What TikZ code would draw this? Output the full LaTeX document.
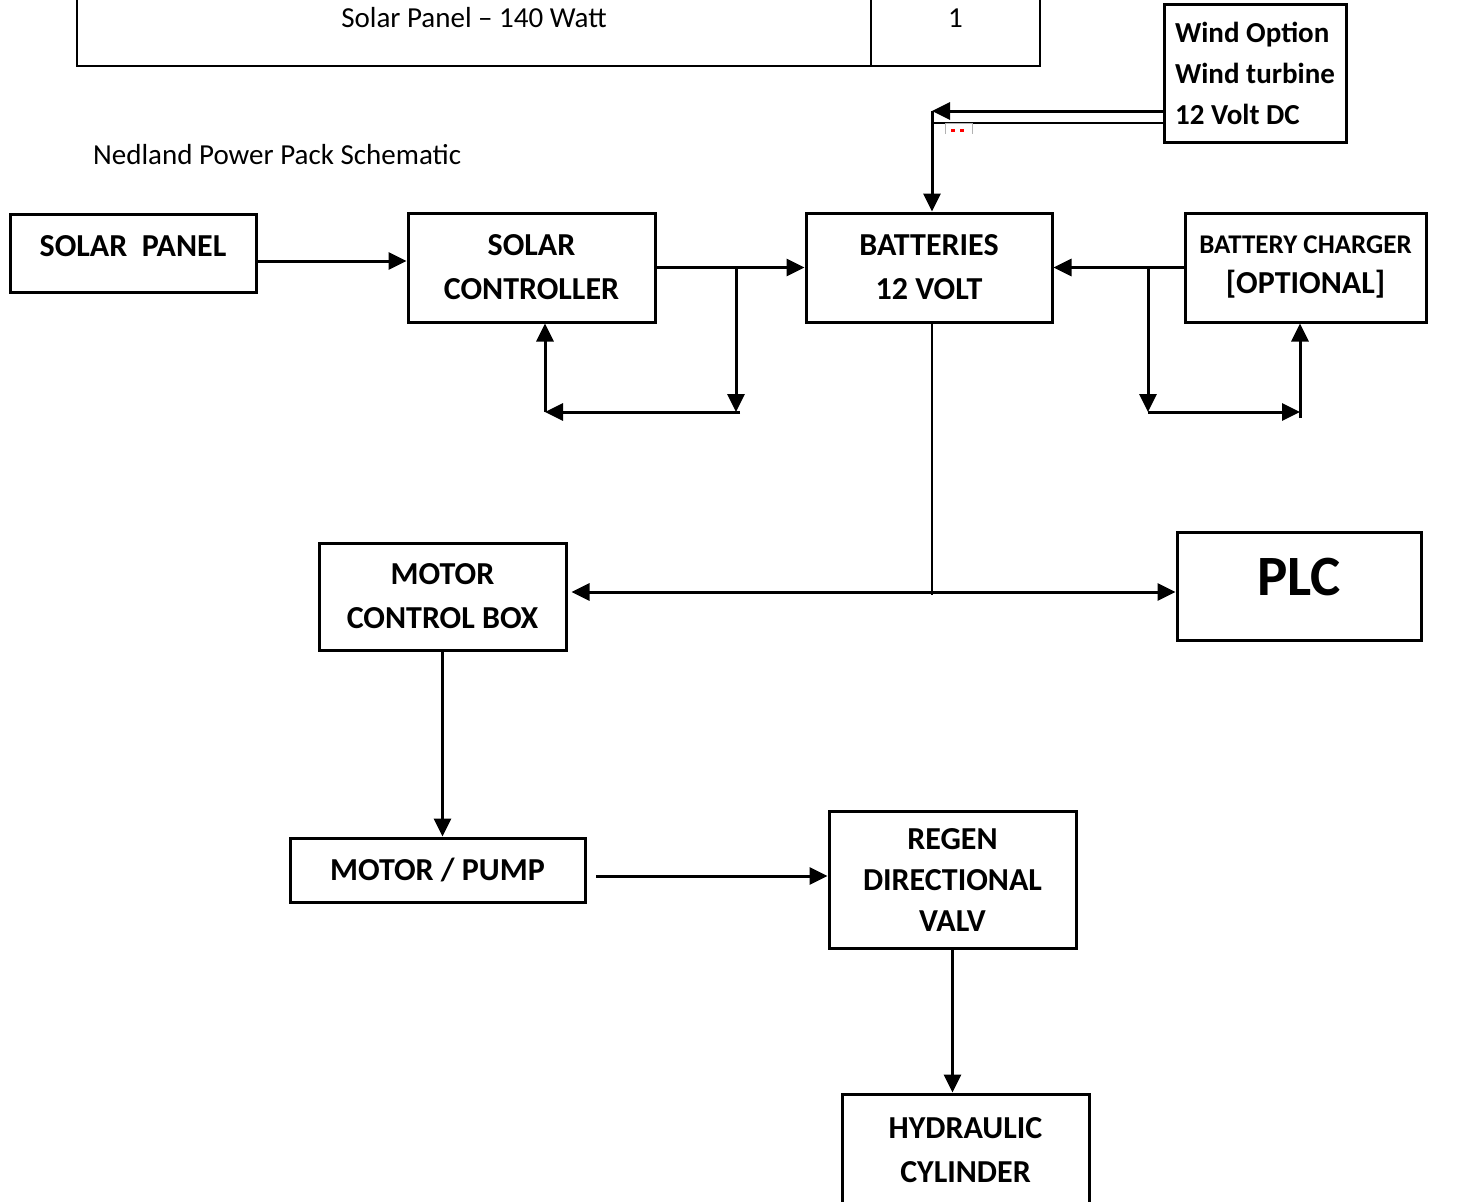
\documentclass[tikz,border=0pt]{standalone}
\usepackage{fontspec}
\setmainfont{Carlito}
\usetikzlibrary{arrows.meta}

\tikzset{
	blockbox/.style={draw, line width=3pt, inner sep=0pt, align=center, font=\bfseries\fontsize{32}{44}\selectfont},
	tablecell/.style={draw, line width=2.5pt, inner sep=0pt, minimum height=96pt, font=\fontsize{29}{36}\selectfont},
	flowarrow/.style={line width=3pt, -{Triangle[length=18pt,width=17pt]}},
}

\begin{document}
\begin{tikzpicture}[x=1pt, y=-1pt]
		%%%%% START %%%%%
		\useasboundingbox (0,0) rectangle (1462,1202);
		\clip (0,0) rectangle (1462,1202);
		
		% parts list row
		\node[tablecell, minimum width=794pt] (item) at (474,18) {Solar Panel -- 140 Watt};
		\node[tablecell, minimum width=169pt] (qty) at (955.5,18) {1};
		
		\node[anchor=west, inner sep=0pt, font=\fontsize{29}{36}\selectfont] (title) at (93,155) {Nedland Power Pack Schematic};
		
		\node[blockbox, minimum width=182pt, minimum height=138pt, align=left, font=\bfseries\fontsize{29}{41}\selectfont] (wind) at (1255,73) {Wind Option\\Wind turbine\\12 Volt DC};
		
		\node[blockbox, minimum width=246pt, minimum height=78pt, text depth=14pt] (panel) at (133,253) {SOLAR\ \ PANEL};
		\node[blockbox, minimum width=247pt, minimum height=109pt] (ctrl) at (531.5,267.5) {SOLAR\\CONTROLLER};
		\node[blockbox, minimum width=246pt, minimum height=109pt] (batt) at (929,267.5) {BATTERIES\\12 VOLT};
		\node[blockbox, minimum width=241pt, minimum height=109pt, font=\bfseries\fontsize{32}{40}\selectfont] (charger) at (1305.5,267.5) {{\fontsize{27}{40}\selectfont BATTERY CHARGER}\\{[OPTIONAL]}};
		
		\node[blockbox, minimum width=247pt, minimum height=107pt] (mcb) at (442.5,596.5) {MOTOR\\CONTROL BOX};
		\node[blockbox, minimum width=244pt, minimum height=108pt, text depth=18pt, font=\bfseries\fontsize{57}{60}\selectfont] (plc) at (1299,586) {PLC};
		
		\node[blockbox, minimum width=295pt, minimum height=64pt] (pump) at (437.5,870) {MOTOR / PUMP};
		\node[blockbox, minimum width=247pt, minimum height=137pt, font=\bfseries\fontsize{32}{41}\selectfont] (valve) at (952.5,880) {REGEN\\DIRECTIONAL\\VALV};
		\node[blockbox, minimum width=247pt, minimum height=132pt, text depth=20pt] (cyl) at (965.5,1160) {HYDRAULIC\\CYLINDER};
		
		% wind feed
		\coordinate (w1) at (932,111);
		\draw[flowarrow] ([yshift=-38pt]wind.west) -- (w1);
		\draw[line width=1.5pt] ([yshift=-50pt]wind.west) -- (932,123);
		\draw[flowarrow] (w1) -- (w1 |- batt.north);
		\draw[gray!60, line width=1pt] (945,134) -- (945,123) -- (972,123) -- (972,134);
		\fill[red] (951,129) rectangle (955,132);
		\fill[red] (960,129) rectangle (964,132);
		
		% solar side
		\coordinate (p1) at (panel.east |- 0,261);
		\draw[flowarrow] (p1) -- (p1 -| ctrl.west);
		\draw[flowarrow] (ctrl) -- (batt);
		\coordinate (j1) at (736,267.5);
		\coordinate (b1) at (736,412);
		\coordinate (b2) at (545,412);
		\draw[flowarrow] (j1) -- (b1);
		\draw[flowarrow] ([xshift=4pt]b1) -- (b2);
		\draw[flowarrow] (b2) -- (b2 |- ctrl.south);
		
		% charger side
		\draw[flowarrow] (charger) -- (batt);
		\coordinate (j2) at (1148,267.5);
		\coordinate (b3) at (1148,412);
		\coordinate (b4) at (1300,412);
		\draw[flowarrow] (j2) -- (b3);
		\draw[flowarrow] (b3) -- (b4);
		\draw[flowarrow] ([yshift=-6pt]b4) -- (b4 |- charger.south);
		
		% battery bus
		\coordinate (j3) at (932,592);
		\draw[line width=1.5pt] (j3 |- batt.south) -- ([yshift=-3pt]j3);
		\draw[flowarrow, shorten >=4pt] (j3) -- (j3 -| mcb.east);
		\draw[flowarrow] (j3) -- (j3 -| plc.west);
		
		% motor and hydraulics
		\draw[flowarrow] (mcb.south) -- (mcb.south |- pump.north);
		\coordinate (p2) at (596,876);
		\draw[flowarrow] (p2) -- (p2 -| valve.west);
		\draw[flowarrow] (valve.south) -- (valve.south |- cyl.north);
		
		%%%%% END %%%%%
\end{tikzpicture}
\end{document}
